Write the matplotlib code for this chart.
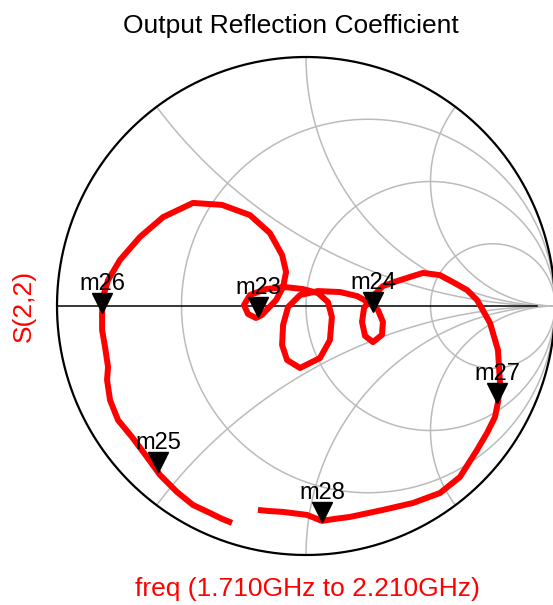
import numpy as np
import matplotlib
matplotlib.use("Agg")
import matplotlib.pyplot as plt
from matplotlib.transforms import offset_copy

plt.rcParams['font.family'] = ['Liberation Sans', 'DejaVu Sans']

s22_re = [-0.297, -0.337, -0.386, -0.454, -0.518, -0.586, -0.639, -0.699, -0.755, -0.787,
          -0.799, -0.795, -0.807, -0.819, -0.819, -0.815, -0.795, -0.747, -0.667, -0.574,
          -0.454, -0.337, -0.225, -0.145, -0.096, -0.080,
          -0.092, -0.120, -0.177, -0.201, -0.233, -0.249, -0.225, -0.161, -0.084, -0.012,
          0.048, 0.088, 0.104, 0.096, 0.056, -0.024, -0.076, -0.096, -0.092, -0.072,
          -0.024, 0.048, 0.137, 0.205,
          0.249, 0.289, 0.309, 0.305, 0.269, 0.237, 0.225, 0.233, 0.265, 0.309, 0.378, 0.470,
          0.538, 0.590, 0.647, 0.687, 0.739, 0.771, 0.779, 0.771, 0.759, 0.727, 0.687, 0.618,
          0.538, 0.430, 0.309, 0.177, 0.116, 0.064, 0.004, -0.092, -0.153, -0.193]
s22_im = [-0.871, -0.855, -0.831, -0.799, -0.747, -0.679, -0.606, -0.526, -0.458, -0.378,
          -0.297, -0.245, -0.165, -0.096, -0.028, 0.036, 0.104, 0.185, 0.277, 0.357,
          0.414, 0.406, 0.365, 0.293, 0.205, 0.137,
          0.076, 0.024, -0.036, -0.048, -0.032, 0.004, 0.044, 0.068, 0.076, 0.068,
          0.052, 0.016, -0.044, -0.137, -0.209, -0.249, -0.217, -0.157, -0.076, -0.004,
          0.044, 0.060, 0.056, 0.040,
          0.016, -0.016, -0.064, -0.116, -0.145, -0.120, -0.064, -0.008, 0.036, 0.080, 0.104, 0.133,
          0.124, 0.096, 0.064, 0.024, -0.068, -0.177, -0.309, -0.386, -0.446, -0.510, -0.578, -0.687,
          -0.751, -0.791, -0.819, -0.847, -0.855, -0.863, -0.839, -0.827, -0.823, -0.819]

marker_names = ['m23', 'm24', 'm25', 'm26', 'm27', 'm28']
marker_re = [-0.193, 0.269, -0.594, -0.819, 0.767, 0.064]
marker_im = [-0.044, -0.024, -0.667, -0.028, -0.390, -0.867]

r_circles = [1/3, 1, 3]
x_arcs = [0.5, 1, 2, -0.5, -1, -2]

fig = plt.figure(figsize=(5.53, 6.05), dpi=100)
lim = 1.05
half = 249 * lim
ax = fig.add_axes([(306 - half) / 553, (605 - 306 - half) / 605, 2 * half / 553, 2 * half / 605])
ax.set_xlim(-lim, lim)
ax.set_ylim(-lim, lim)
ax.axis('off')

grid_c = '#bbbbbb'
t = np.linspace(0, 2 * np.pi, 400)
for r in r_circles:
    c = r / (r + 1)
    rad = 1 / (r + 1)
    ax.plot(c + rad * np.cos(t), rad * np.sin(t), color=grid_c, lw=1.1, zorder=1)

rr = np.concatenate([np.linspace(0, 5, 300), np.logspace(np.log10(5), 4, 200)])
for x in x_arcs:
    g = (rr + 1j * x - 1) / (rr + 1j * x + 1)
    ax.plot(g.real, g.imag, color=grid_c, lw=1.1, zorder=1)

ax.plot([0.928, 1], [0, 0], color=grid_c, lw=1.1, zorder=1)
ax.plot([-1, 0.928], [0, 0], color='black', lw=1.1, zorder=2)
ax.plot(np.cos(t), np.sin(t), color='black', lw=1.6, zorder=2)

ax.plot(s22_re, s22_im, color='#ff0000', lw=4.3, solid_joinstyle='round',
        solid_capstyle='butt', zorder=3)

tri = offset_copy(ax.transData, fig=fig, x=0, y=7.2, units='points')
lab = offset_copy(ax.transData, fig=fig, x=0, y=16.5, units='points')
for name, mr, mi in zip(marker_names, marker_re, marker_im):
    ax.plot(mr, mi, marker='v', ms=14.5, color='black', transform=tri, zorder=4)
    ax.text(mr, mi, name, transform=lab, ha='center', va='baseline',
            fontsize=17, color='black', zorder=5)

fig.text(291 / 553, 1 - 33 / 605, 'Output Reflection Coefficient', ha='center',
         va='baseline', fontsize=19, color='black')
fig.text(307 / 553, 1 - 596 / 605, 'freq (1.710GHz to 2.210GHz)', ha='center',
         va='baseline', fontsize=19, color='#ff0000')
fig.text(23.5 / 553, 1 - 306 / 605, 'S(2,2)', ha='center', va='center', rotation=90,
         fontsize=19, color='#ff0000')

fig.savefig('out.png', dpi=100)
